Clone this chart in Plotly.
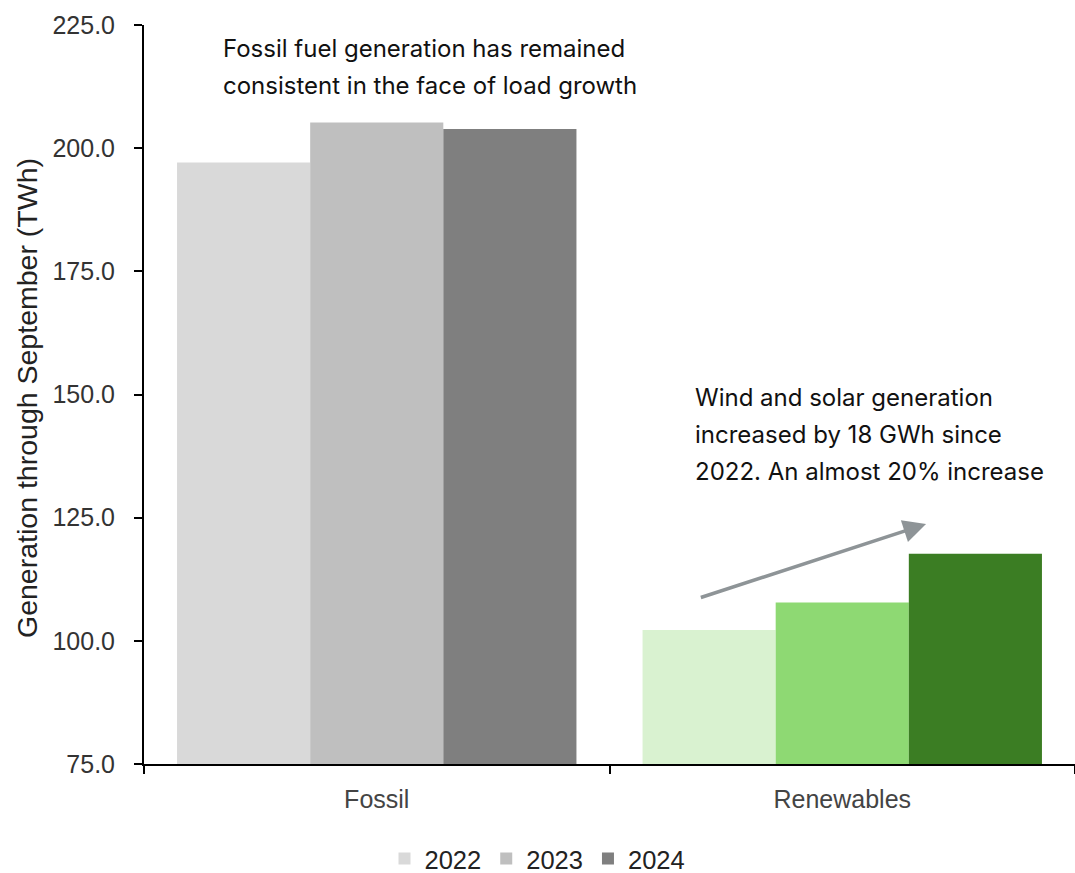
import plotly.graph_objects as go

# Generation through September, TWh
categories = ["Fossil", "Renewables"]
years = ["2022", "2023", "2024"]
values_2022 = [197.1, 102.2]
values_2023 = [205.2, 107.8]
values_2024 = [203.9, 117.7]
y_ticks = [75, 100, 125, 150, 175, 200, 225]

# fossil bars in greys, renewables in greens
colors = {
    "2022": ["#d9d9d9", "#d9f2d0"],
    "2023": ["#bfbfbf", "#8ed973"],
    "2024": ["#7f7f7f", "#3b7d23"],
}
series = {"2022": values_2022, "2023": values_2023, "2024": values_2024}

fig = go.Figure()
for yr in years:
    fig.add_trace(go.Bar(
        x=categories, y=series[yr], name=yr,
        marker=dict(color=colors[yr], line=dict(width=0)),
    ))

SANS = "Liberation Sans, Arial, sans-serif"
text_font = dict(family="Inter, Noto Sans, sans-serif", size=24, color="#111111")

note_fossil = ["Fossil fuel generation has remained",
               "consistent in the face of load growth"]
note_renew = ["Wind and solar generation",
              "increased by 18 GWh since",
              "2022. An almost 20% increase"]

# plot area spans 25..764 px vertically
def py(pixel):
    return (764 - pixel) / 739

annotations = []
for i, line in enumerate(note_fossil):
    annotations.append(dict(
        text=line, xref="paper", yref="paper", x=(221 - 144) / 931, y=py(48.5 + 37.5 * i),
        xanchor="left", yanchor="middle", showarrow=False, font=text_font))
for i, line in enumerate(note_renew):
    annotations.append(dict(
        text=line, xref="paper", yref="paper", x=(693 - 144) / 931, y=py(397 + 37.5 * i),
        xanchor="left", yanchor="middle", showarrow=False, font=text_font))

# y-axis title
annotations.append(dict(
    text="Generation through September (TWh)", textangle=-90,
    xref="paper", yref="paper", x=(27 - 144) / 931, y=py(398),
    xanchor="center", yanchor="middle", showarrow=False,
    font=dict(family=SANS, size=28.5, color="#222222")))

# trend arrow over the renewables group
arrow_start = (0.693, 108.7)
arrow_end = (1.180, 123.7)
annotations.append(dict(
    x=arrow_end[0], y=arrow_end[1], ax=arrow_start[0], ay=arrow_start[1],
    xref="x", yref="y", axref="x", ayref="y", text="", showarrow=True,
    arrowhead=2, arrowsize=1.3, arrowwidth=3.5, arrowcolor="#8e9497"))

fig.update_layout(
    width=1075, height=873,
    margin=dict(l=144, r=0, t=25, b=109),
    paper_bgcolor="white", plot_bgcolor="white",
    barmode="group", bargap=0.142, bargroupgap=0,
    showlegend=True,
    legend=dict(orientation="h", xref="container", x=0.5, xanchor="center",
                yref="container", y=(873 - 859) / 873, yanchor="middle",
                font=dict(family=SANS, size=25.5, color="#222222"),
                itemwidth=30, traceorder="normal"),
    annotations=annotations,
    xaxis=dict(
        type="category", range=[-0.5, 1.5],
        showline=True, linecolor="black", linewidth=2,
        ticks="outside", tickson="boundaries", ticklen=8, tickwidth=2, tickcolor="black",
        ticklabelstandoff=12,
        tickfont=dict(family=SANS, size=25, color="#444444"),
        showgrid=False,
    ),
    yaxis=dict(
        range=[75, 225], tickvals=y_ticks, tickformat=".1f",
        showline=True, linecolor="black", linewidth=2,
        ticks="outside", ticklen=8, tickwidth=2, tickcolor="black",
        ticklabelstandoff=14,
        tickfont=dict(family=SANS, size=25, color="#333333"),
        showgrid=False, zeroline=False,
    ),
)

fig.write_html("out.html")
